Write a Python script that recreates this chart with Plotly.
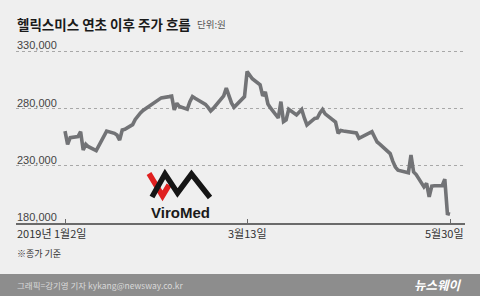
import pandas as pd
import plotly.graph_objects as go

# ---- data ----
dates = [
    "2019-01-02", "2019-01-03", "2019-01-04", "2019-01-07", "2019-01-08", "2019-01-09",
    "2019-01-10", "2019-01-11", "2019-01-14", "2019-01-15", "2019-01-16", "2019-01-17",
    "2019-01-18", "2019-01-21", "2019-01-22", "2019-01-23", "2019-01-24", "2019-01-25",
    "2019-01-28", "2019-01-29", "2019-01-30", "2019-01-31", "2019-02-01", "2019-02-07",
    "2019-02-08", "2019-02-11", "2019-02-12", "2019-02-13", "2019-02-14", "2019-02-15",
    "2019-02-18", "2019-02-19", "2019-02-20", "2019-02-21", "2019-02-22", "2019-02-25",
    "2019-02-26", "2019-02-27", "2019-02-28", "2019-03-04", "2019-03-05", "2019-03-06",
    "2019-03-07", "2019-03-08", "2019-03-11", "2019-03-12", "2019-03-13", "2019-03-14",
    "2019-03-15", "2019-03-18", "2019-03-19", "2019-03-20", "2019-03-21", "2019-03-22",
    "2019-03-25", "2019-03-26", "2019-03-27", "2019-03-28", "2019-03-29", "2019-04-01",
    "2019-04-02", "2019-04-03", "2019-04-04", "2019-04-05", "2019-04-08", "2019-04-09",
    "2019-04-10", "2019-04-11", "2019-04-12", "2019-04-15", "2019-04-16", "2019-04-17",
    "2019-04-18", "2019-04-19", "2019-04-22", "2019-04-23", "2019-04-24", "2019-04-25",
    "2019-04-26", "2019-04-29", "2019-04-30", "2019-05-01", "2019-05-02", "2019-05-03",
    "2019-05-07", "2019-05-08", "2019-05-09", "2019-05-10", "2019-05-13", "2019-05-14",
    "2019-05-15", "2019-05-16", "2019-05-17", "2019-05-20", "2019-05-21", "2019-05-22",
    "2019-05-23", "2019-05-24", "2019-05-27", "2019-05-28", "2019-05-29", "2019-05-30",
]
close = [
    260400, 248800, 254600, 255600, 259800, 243800,
    248800, 246700, 243200, 247300, 250800, 254700,
    260400, 258400, 256900, 252500, 261300, 261900,
    266000, 270500, 273600, 276200, 278400, 288500,
    289400, 290500, 291000, 278900, 284700, 281800,
    279500, 286100, 290500, 289000, 287600, 283700,
    281100, 278000, 280200, 291100, 297900, 291100,
    285000, 281100, 287600, 290500, 312500, 308700,
    306100, 300800, 291100, 294600, 284100, 280600,
    271800, 286100, 268600, 270100, 279500, 274500,
    277100, 279300, 271800, 265700, 271400, 271800,
    276200, 279200, 275400, 270100, 268300, 258400,
    260900, 260400, 259300, 259100, 258700, 254000,
    255200, 258700, 259800, 255200, 250800, 249000,
    240700, 234100, 228900, 226200, 224700, 223900,
    239400, 224700, 222300, 211600, 214600, 202800,
    212200, 212600, 212600, 218300, 188200, 187600,
]
y_ticks = [180000, 230000, 280000, 330000]
y_tick_labels = ["180,000", "230,000", "280,000", "330,000"]
x_ticks = ["2019-01-02", "2019-03-13", "2019-05-30"]
x_tick_labels = ["2019년 1월2일", "3월13일", "5월30일"]

title_text = "헬릭스미스 연초 이후 주가 흐름"
unit_text = "단위:원"
note_text = "※종가 기준"
credit_text = "그래픽=강기영 기자 kykang@newsway.co.kr"
brand_text = "뉴스웨이"
logo_text = "ViroMed"

# ---- layout geometry ----
W, H = 480, 296
ML, MR, MT, MB = 16, 15, 40, 73
PW, PH = W - ML - MR, H - MT - MB


def px2x(px):
    return (px - ML) / PW


def py2y(py):
    return (H - MB - py) / PH


KR = "Noto Sans CJK KR, Noto Sans, sans-serif"
NUM = "Liberation Sans Narrow, Arial Narrow, Liberation Sans, sans-serif"

d = pd.to_datetime(dates)
day_px = 2.601
x_start = d[0] - pd.Timedelta(days=(65 - ML) / day_px)
x_end = d[-1] + pd.Timedelta(days=(W - MR - 450) / day_px)

fig = go.Figure()
fig.add_trace(go.Scatter(
    x=d, y=close, mode="lines",
    line=dict(color="#727376", width=3.6, shape="linear"),
    hoverinfo="skip",
))

annotations = []
# title
annotations.append(dict(x=px2x(15), y=py2y(23.5), xref="paper", yref="paper",
                        text=f"<b>{title_text}</b>", showarrow=False,
                        xanchor="left", yanchor="middle",
                        font=dict(family=KR, size=13.5, color="#1a1a1a")))
annotations.append(dict(x=px2x(195), y=py2y(24), xref="paper", yref="paper",
                        text=unit_text, showarrow=False,
                        xanchor="left", yanchor="middle",
                        font=dict(family=KR, size=9.5, color="#555555")))
# y labels above gridlines
for v, lab in zip(y_ticks, y_tick_labels):
    annotations.append(dict(x=0, y=v, xref="paper", yref="y", text=lab,
                            showarrow=False, xanchor="left", yanchor="middle",
                            yshift=6, xshift=-1,
                            font=dict(family=NUM, size=11, color="#444444")))
# x labels
anchors = ["left", "center", "right"]
xs = [0, None, 1]
for (tv, lab, anc, xp) in zip(x_ticks, x_tick_labels, anchors, xs):
    if xp is None:
        annotations.append(dict(x=pd.Timestamp(tv), y=py2y(233), xref="x", yref="paper",
                                text=lab, showarrow=False, xanchor=anc, yanchor="middle",
                                font=dict(family=KR, size=11, color="#333333")))
    else:
        annotations.append(dict(x=xp, y=py2y(233), xref="paper", yref="paper",
                                text=lab, showarrow=False, xanchor=anc, yanchor="middle",
                                xshift=(-1 if anc == "left" else 1),
                                font=dict(family=KR, size=11, color="#333333")))
annotations.append(dict(x=px2x(15), y=py2y(253), xref="paper", yref="paper",
                        text=note_text, showarrow=False, xanchor="left", yanchor="middle",
                        font=dict(family=KR, size=9, color="#333333")))
annotations.append(dict(x=px2x(15), y=py2y(285), xref="paper", yref="paper",
                        text=credit_text, showarrow=False, xanchor="left", yanchor="middle",
                        font=dict(family=KR, size=8.5, color="#d9d9d9")))
annotations.append(dict(x=px2x(464), y=py2y(284.5), xref="paper", yref="paper",
                        text=f"<b>{brand_text}</b>", showarrow=False, xanchor="right",
                        yanchor="middle",
                        font=dict(family=KR, size=12.5, color="#ffffff", style="italic")))
annotations.append(dict(x=px2x(180.5), y=py2y(212), xref="paper", yref="paper",
                        text=f"<b>{logo_text}</b>", showarrow=False, xanchor="center",
                        yanchor="middle",
                        font=dict(family="Liberation Sans, Arial, sans-serif", size=15,
                                  color="#1a1a1a")))


def path(points):
    s = "M " + " L ".join(f"{px2x(a):.5f},{py2y(b):.5f}" for a, b in points)
    return s


shapes = [
    # footer band
    dict(type="rect", xref="paper", yref="paper", x0=px2x(0), x1=px2x(W),
         y0=py2y(H), y1=py2y(274), fillcolor="#8d8d8d", line=dict(width=0),
         layer="below"),
    # ViroMed mark
    dict(type="path", xref="paper", yref="paper",
         path=path([(149, 173.5), (162.5, 196), (169, 185)]),
         line=dict(color="#e02020", width=5.5)),
    dict(type="path", xref="paper", yref="paper",
         path=path([(152, 197), (165, 174), (177.5, 193), (191.5, 174), (210, 197.5)]),
         line=dict(color="#151515", width=5.5)),
]

fig.update_layout(
    width=W, height=H,
    margin=dict(l=ML, r=MR, t=MT, b=MB, pad=0),
    paper_bgcolor="#efefef", plot_bgcolor="#efefef",
    showlegend=False,
    annotations=annotations,
    shapes=shapes,
    xaxis=dict(type="date", range=[x_start, x_end], showgrid=False, zeroline=False,
               showline=True, linecolor="#6a6a6a", linewidth=1.5,
               tickmode="array", tickvals=pd.to_datetime(x_ticks), ticks="inside",
               ticklen=4, tickcolor="#6a6a6a", tickwidth=1, showticklabels=False),
    yaxis=dict(range=[180000, 340000], showgrid=True, gridcolor="#a8a8a8",
               griddash="dot", gridwidth=1, zeroline=False, showline=False,
               tickmode="array", tickvals=y_ticks[1:], showticklabels=False, ticks=""),
)

fig.write_html("out.html")
